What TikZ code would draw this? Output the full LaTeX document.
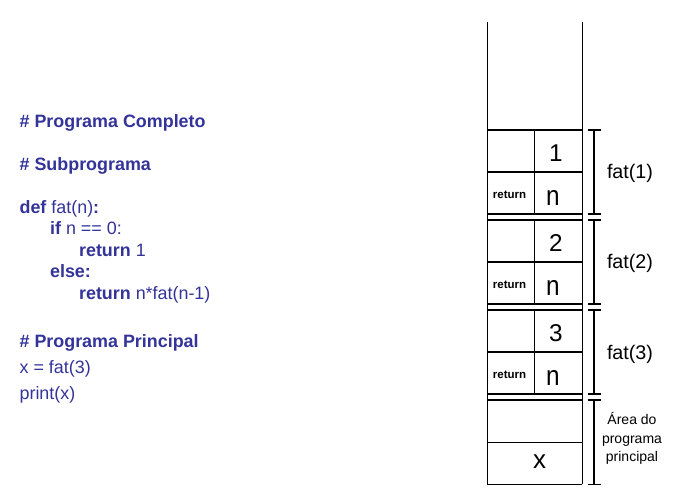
\documentclass[tikz,border=0pt]{standalone}
\usepackage{fontspec}
\setmainfont{Liberation Sans}
\definecolor{codeblue}{RGB}{51,51,153}
\begin{document}
\begin{tikzpicture}[x=1pt,y=-1pt,line width=1.2pt,
  codetxt/.style={anchor=base west,inner sep=0pt,text=codeblue,font=\fontsize{17.9}{20}\selectfont},
  bigtxt/.style={anchor=base,inner sep=0pt,font=\fontsize{24.3}{28}\selectfont},
  rettxt/.style={anchor=base,inner sep=0pt,font=\fontsize{11.5}{13}\selectfont\bfseries},
  fattxt/.style={anchor=base,inner sep=0pt,font=\fontsize{19.7}{23}\selectfont},
  areatxt/.style={anchor=base,inner sep=0pt,font=\fontsize{14}{17}\selectfont}]
\useasboundingbox (0,0) rectangle (681,500);
% code
\node[codetxt] (l1) at (19,128) {\textbf{\# Programa Completo}};
\node[codetxt] (l2) at (19,171) {\textbf{\# Subprograma}};
\node[codetxt] (l3) at (19,213.5) {\textbf{def} fat(n)\textbf{:}};
\node[codetxt] (l4) at (49.5,235) {\textbf{if} n == 0:};
\node[codetxt] (l5) at (78.5,256.5) {\textbf{return} 1};
\node[codetxt] (l6) at (49.5,278) {\textbf{else:}};
\node[codetxt] (l7) at (78.5,299.5) {\textbf{return} n*fat(n-1)};
\node[codetxt] (l8) at (19,347) {\textbf{\# Programa Principal}};
\node[codetxt] (l9) at (19,373) {x = fat(3)};
\node[codetxt] (l10) at (19,399) {print(x)};
% stack column
\coordinate (tl) at (487.3,22);
\coordinate (tr) at (582.3,22);
\coordinate (bl) at (487.3,484.3);
\coordinate (br) at (582.3,484.3);
\draw (tl) -- (bl);
\draw (tr) -- (br);
\foreach \t/\v in {130/1,220/2,310/3}{
  \draw (487.3,\t) -- (582.3,\t);
  \draw (487.3,{\t+42}) -- (582.3,{\t+42});
  \draw (487.3,{\t+84}) -- (582.3,{\t+84});
  \draw (534.3,\t) -- (534.3,{\t+84});
  \node[bigtxt] (d\v) at (556,{\t+31.7}) {\v};
  \node[bigtxt,yscale=1.15] (n\v) at (553,{\t+75.5}) {n};
  \node[rettxt] (r\v) at (509.5,{\t+68.3}) {return};
  \draw (594,\t) -- (594,{\t+84});
  \draw (588,\t) -- (601,\t);
  \draw (588,{\t+84}) -- (601,{\t+84});
  \node[fattxt] (f\v) at (630,{\t+49}) {fat(\v)};
}
% main program area
\draw (487.3,400) -- (582.3,400);
\draw (487.3,442.3) -- (582.3,442.3);
\draw (bl) -- (br);
\node[bigtxt,font=\fontsize{26}{30}\selectfont] (xv) at (539.5,468.5) {x};
\draw (594,400) -- (594,484.3);
\draw (588,400) -- (601,400);
\draw (588,484.3) -- (601,484.3);
\node[areatxt] (a1) at (632,424.3) {Área do};
\node[areatxt] (a2) at (632,443) {programa};
\node[areatxt] (a3) at (632,461.7) {principal};
\end{tikzpicture}
\end{document}
